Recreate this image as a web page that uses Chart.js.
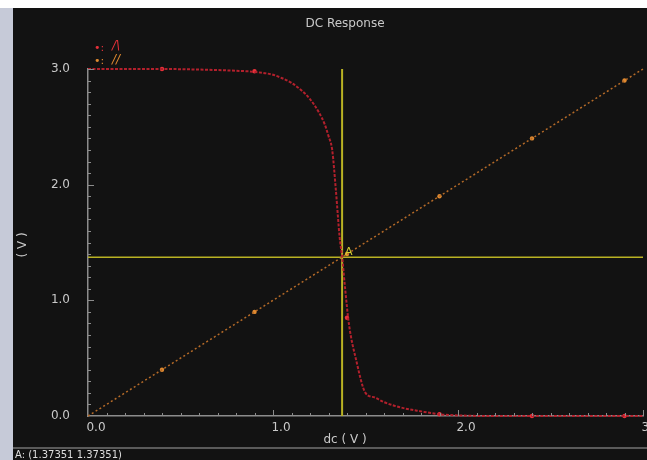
<!DOCTYPE html>
<html>
<head>
<meta charset="utf-8">
<script src="https://cdn.jsdelivr.net/npm/chart.js@4.4.1/dist/chart.umd.min.js"></script>
<style>
  html, body { margin: 0; padding: 0; background: #fff; }
  #wrap { position: relative; width: 647px; height: 460px; }
</style>
</head>
<body>
<div id="wrap"><canvas id="dc-response" width="647" height="460"></canvas></div>
<script>
// Sweep values (V)
const sweepX = [0, 0.2, 0.4, 0.6, 0.8, 0.9, 1.0, 1.05, 1.1, 1.15, 1.2, 1.25, 1.28, 1.30, 1.32, 1.34, 1.36, 1.374, 1.39, 1.41, 1.45, 1.50, 1.55, 1.60, 1.70, 1.80, 1.90, 2.0, 2.2, 2.5, 3.0];
const outY   = [3.0, 3.0, 3.0, 2.995, 2.985, 2.975, 2.95, 2.92, 2.88, 2.82, 2.74, 2.62, 2.52, 2.42, 2.30, 1.95, 1.55, 1.37, 1.10, 0.80, 0.48, 0.20, 0.16, 0.12, 0.07, 0.04, 0.015, 0.005, 0.0, 0.0, 0.0];
const rampX  = [0, 3.0];
const rampY  = [0, 3.0];

// marker symbols drawn on both traces
const markerX     = [0.4, 0.9, 1.4, 1.9, 2.4, 2.9];
const outMarkerY  = [3.0, 2.98, 0.85, 0.015, 0.0, 0.0];
const rampMarkerY = [0.4, 0.9, 1.4, 1.9, 2.4, 2.9];

// cursor A
const cursorA = [1.37351, 1.37351];

const xTicks = [0, 1, 2, 3];
const yTicks = [0, 1, 2, 3];

const COLORS = {
    panel: '#121212',
    text: '#c9c9c9',
    axis: '#8c8c8c',
    out: '#b3202c',
    outMark: '#e8313a',
    ramp: '#b46a28',
    rampMark: '#e08a30',
    cursor: '#b9b223'
};

const toPoints = (xs, ys) => xs.map((x, i) => ({ x, y: ys[i] }));

// Background, ticks, labels and cursor annotation
const scopeFrame = {
    id: 'scopeFrame',
    beforeDraw(chart) {
        const { ctx, width, height } = chart;
        ctx.save();
        ctx.fillStyle = '#ffffff';
        ctx.fillRect(0, 0, width, height);
        ctx.fillStyle = '#c6cad8';
        ctx.fillRect(0, 8, 13, height - 8);
        ctx.fillStyle = COLORS.panel;
        ctx.fillRect(13, 8, width - 13, height - 8);
        // status bar
        ctx.fillStyle = '#5a5a5a';
        ctx.fillRect(13, 447, width - 13, 2);
        ctx.restore();
    },
    afterDraw(chart) {
        const { ctx, chartArea } = chart;
        const xs = chart.scales.x, ys = chart.scales.y;
        ctx.save();

        // inward minor ticks every 0.1 V
        ctx.strokeStyle = COLORS.axis;
        ctx.lineWidth = 1;
        ctx.beginPath();
        for (let i = 1; i <= 30; i++) {
            const len = i % 10 === 0 ? 6 : 3;
            const px = Math.round(xs.getPixelForValue(i / 10)) + 0.5;
            ctx.moveTo(px, chartArea.bottom);
            ctx.lineTo(px, chartArea.bottom - len);
            const py = Math.round(ys.getPixelForValue(i / 10)) + 0.5;
            ctx.moveTo(chartArea.left, py);
            ctx.lineTo(chartArea.left + len, py);
        }
        ctx.stroke();

        // titles
        ctx.fillStyle = COLORS.text;
        ctx.font = '12px "DejaVu Sans"';
        ctx.textAlign = 'center';
        ctx.textBaseline = 'middle';
        ctx.fillText('DC Response', 345, 24);
        ctx.fillText('dc ( V )', 345, 440);
        ctx.save();
        ctx.translate(23, 245);
        ctx.rotate(-Math.PI / 2);
        ctx.fillText('( V )', 0, 0);
        ctx.restore();

        // legend
        ctx.textAlign = 'left';
        ctx.font = '11px "DejaVu Sans"';
        ctx.fillStyle = COLORS.outMark;
        ctx.fillText('•:', 94, 48);
        ctx.font = 'italic 12px "DejaVu Sans"';
        ctx.fillText('/\\', 112, 46);
        ctx.font = '11px "DejaVu Sans"';
        ctx.fillStyle = COLORS.rampMark;
        ctx.fillText('•:', 94, 61);
        ctx.font = 'italic 12px "DejaVu Sans"';
        ctx.fillText('//', 112, 60);

        // cursor label
        ctx.font = '11px "DejaVu Sans"';
        ctx.fillStyle = '#d6cf30';
        ctx.fillText('A', xs.getPixelForValue(cursorA[0]) + 3, ys.getPixelForValue(cursorA[1]) - 5);

        // status line
        ctx.font = '10px "DejaVu Sans"';
        ctx.fillStyle = '#dedede';
        ctx.fillText('A: (' + cursorA[0] + ' ' + cursorA[1] + ')', 15, 455);
        ctx.restore();
    }
};

function buildChart() {
    const ctx = document.getElementById('dc-response').getContext('2d');
    return new Chart(ctx, {
        type: 'scatter',
        data: {
            datasets: [
                {
                    label: '/\\',
                    data: toPoints(sweepX, outY),
                    showLine: true,
                    borderColor: COLORS.out,
                    borderWidth: 2,
                    borderDash: [3, 1.5],
                    cubicInterpolationMode: 'monotone',
                    pointRadius: 0,
                    clip: 4
                },
                {
                    label: '//',
                    data: toPoints(rampX, rampY),
                    showLine: true,
                    borderColor: COLORS.ramp,
                    borderWidth: 1.5,
                    borderDash: [2, 2.5],
                    pointRadius: 0,
                    clip: 4
                },
                {
                    label: 'out markers',
                    data: toPoints(markerX, outMarkerY),
                    pointRadius: 2.2,
                    pointBackgroundColor: COLORS.outMark,
                    pointBorderWidth: 0,
                    clip: 4
                },
                {
                    label: 'ramp markers',
                    data: toPoints(markerX, rampMarkerY),
                    pointRadius: 2.2,
                    pointBackgroundColor: COLORS.rampMark,
                    pointBorderWidth: 0,
                    clip: 4
                },
                {
                    label: 'cursor v',
                    data: [{ x: cursorA[0], y: 0 }, { x: cursorA[0], y: 3 }],
                    showLine: true,
                    borderColor: COLORS.cursor,
                    borderWidth: 2,
                    pointRadius: 0
                },
                {
                    label: 'cursor h',
                    data: [{ x: 0, y: cursorA[1] }, { x: 3, y: cursorA[1] }],
                    showLine: true,
                    borderColor: COLORS.cursor,
                    borderWidth: 1.5,
                    pointRadius: 0
                }
            ]
        },
        options: {
            responsive: false,
            animation: false,
            layout: { padding: { left: 0, top: 69, right: 2, bottom: 0 } },
            plugins: {
                legend: { display: false },
                tooltip: { enabled: false }
            },
            scales: {
                x: {
                    type: 'linear',
                    min: 0,
                    max: 3,
                    afterBuildTicks: scale => { scale.ticks = xTicks.map(v => ({ value: v })); },
                    afterFit: scale => {
                        scale.height = 44;
                        scale.paddingLeft = scale.paddingRight = 0;
                    },
                    grid: { display: true, drawOnChartArea: false, drawTicks: false },
                    border: { display: true, color: COLORS.axis, width: 1.5 },
                    ticks: {
                        color: COLORS.text,
                        font: { family: 'DejaVu Sans', size: 12 },
                        padding: 5,
                        labelOffset: 8,
                        maxRotation: 0,
                        autoSkip: false,
                        callback: v => v.toFixed(1)
                    }
                },
                y: {
                    type: 'linear',
                    min: 0,
                    max: 3,
                    afterBuildTicks: scale => { scale.ticks = yTicks.map(v => ({ value: v })); },
                    afterFit: scale => {
                        scale.width = 88;
                        scale.paddingTop = scale.paddingBottom = 0;
                    },
                    grid: { display: true, drawOnChartArea: false, drawTicks: false },
                    border: { display: true, color: COLORS.axis, width: 1.5 },
                    ticks: {
                        color: COLORS.text,
                        font: { family: 'DejaVu Sans', size: 12 },
                        padding: 18,
                        autoSkip: false,
                        callback: v => v.toFixed(1)
                    }
                }
            }
        },
        plugins: [scopeFrame]
    });
}

document.addEventListener('DOMContentLoaded', () => {
    window.dcChart = buildChart();
});
</script>
</body>
</html>
